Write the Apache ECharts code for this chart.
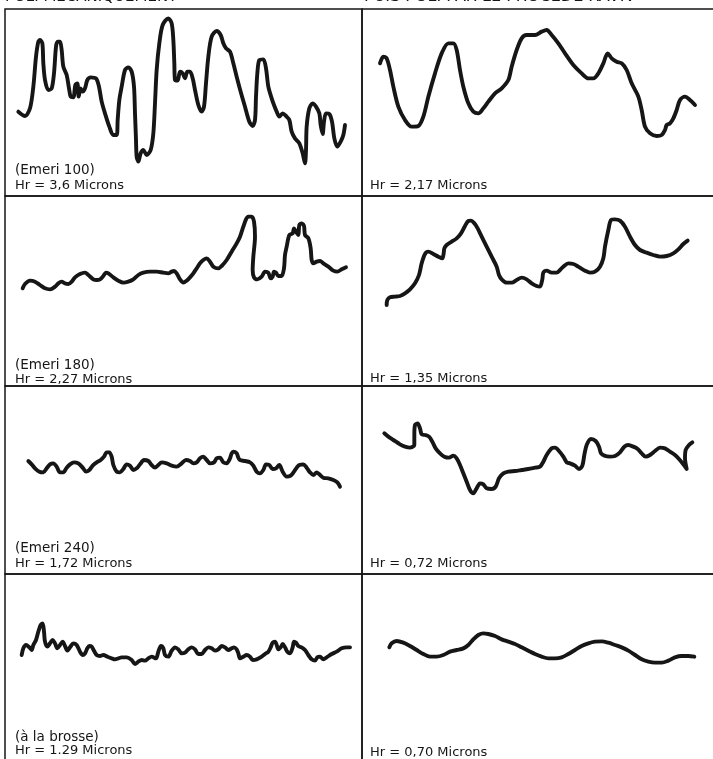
<!DOCTYPE html>
<html>
<head>
    <meta charset="utf-8">
    <title>Profils de rugosité</title>
    <script src="https://cdn.jsdelivr.net/npm/echarts@6/dist/echarts.min.js"></script>
    <style>
        html, body { margin: 0; padding: 0; background: #fff; }
        #main { width: 713px; height: 759px; }
    </style>
</head>
<body>
<div id="main"></div>
<script type="text/javascript">

    // titres des deux colonnes
    var headers = ['POLI MECANIQUEMENT', 'PUIS POLI PAR LE PROCEDE RAVIV'];

    // légendes des panneaux
    var leftNotes = ['(Emeri 100)', '(Emeri 180)', '(Emeri 240)', '(à la brosse)'];
    var leftHr = ['Hr = 3,6 Microns', 'Hr = 2,27 Microns', 'Hr = 1,72 Microns', 'Hr = 1.29 Microns'];
    var rightHr = ['Hr = 2,17 Microns', 'Hr = 1,35 Microns', 'Hr = 0,72 Microns', 'Hr = 0,70 Microns'];

    // profils [position, hauteur] (unités)
    var emeri100 = [[40,253],[60,240],[75,263],[85,328],[93,418],[100,463],[105,468],[112,458],[115,398],[120,348],[130,318],[140,323],[147,368],[153,448],[158,463],[165,463],[170,438],[175,388],[185,363],[192,323],[197,298],[205,296],[211,333],[217,338],[221,298],[227,323],[233,313],[240,323],[247,348],[257,356],[273,353],[282,328],[290,283],[300,248],[313,208],[325,183],[335,183],[338,228],[343,288],[350,328],[360,378],[370,386],[380,373],[387,328],[390,248],[393,168],[395,118],[400,103],[407,128],[415,138],[425,123],[437,138],[445,188],[450,278],[455,378],[463,458],[473,513],[490,533],[500,518],[505,468],[508,398],[510,348],[518,346],[525,373],[533,368],[540,353],[547,373],[555,373],[563,353],[570,318],[580,273],[590,253],[597,268],[603,338],[610,418],[620,478],[635,495],[647,483],[655,458],[663,443],[675,433],[685,398],[695,358],[707,313],[720,268],[733,223],[743,210],[750,228],[753,298],[757,368],[763,408],[775,410],[783,383],[790,328],[800,293],[807,273],[815,253],[823,238],[833,248],[843,240],[853,228],[860,193],[870,173],[883,158],[893,128],[900,98],[903,138],[905,208],[913,263],[923,278],[933,268],[943,248],[947,213],[953,186],[957,223],[963,248],[973,246],[981,223],[988,173],[997,148],[1007,163],[1015,183],[1020,213]];

    var raviv1 = [[54,398],[64,418],[74,413],[84,378],[94,328],[109,268],[129,228],[149,208],[169,210],[184,238],[199,298],[219,368],[239,428],[259,458],[274,458],[284,438],[294,378],[304,328],[319,278],[334,253],[349,248],[364,263],[379,283],[399,308],[419,323],[439,348],[449,388],[464,438],[479,473],[494,483],[519,483],[539,493],[554,498],[569,483],[589,458],[609,428],[634,393],[659,368],[679,353],[694,353],[709,368],[724,398],[737,428],[749,413],[764,403],[779,398],[794,378],[809,338],[829,298],[839,258],[849,208],[864,188],[884,180],[899,183],[909,198],[914,213],[924,218],[934,233],[944,258],[954,288],[969,298],[984,288],[999,273]];

    var emeri180 = [[53,293],[60,306],[75,316],[90,313],[105,303],[120,293],[135,290],[150,298],[160,308],[170,313],[180,308],[190,306],[200,313],[210,326],[225,336],[240,340],[250,333],[265,320],[275,318],[285,320],[295,330],[303,340],[310,338],[325,326],[340,316],[355,310],[370,313],[385,320],[400,333],[415,340],[435,343],[455,343],[475,340],[490,338],[500,343],[507,345],[515,338],[525,320],[535,310],[545,316],[555,326],[565,338],[575,353],[585,368],[595,378],[605,383],[615,373],[625,358],[640,353],[650,360],[665,378],[680,403],[695,428],[705,448],[715,478],[723,500],[730,508],[740,508],[747,493],[750,448],[745,388],[743,348],[747,326],[757,320],[770,328],[780,343],[790,340],[797,323],[803,328],[807,343],[813,340],[820,330],[830,330],[837,353],[840,393],[845,418],[853,453],[863,458],[867,473],[873,463],[880,453],[883,483],[890,488],[897,480],[900,453],[910,443],[917,413],[920,378],[925,368],[935,373],[945,375],[955,368],[970,358],[985,346],[997,343],[1010,350],[1023,356]];

    var raviv2 = [[74,243],[76,258],[84,266],[99,268],[114,270],[129,278],[144,290],[159,308],[171,333],[179,368],[189,396],[199,403],[214,396],[229,388],[241,383],[245,398],[247,413],[254,423],[269,433],[284,443],[297,458],[309,480],[319,495],[327,496],[337,488],[347,473],[359,448],[374,418],[389,388],[404,358],[411,333],[419,320],[434,310],[449,310],[464,318],[479,325],[494,320],[509,308],[524,300],[534,298],[541,320],[544,340],[554,346],[569,340],[584,340],[594,348],[604,358],[619,368],[634,366],[649,358],[669,346],[684,340],[699,343],[714,358],[724,383],[729,418],[739,468],[747,498],[759,500],[774,496],[789,478],[804,448],[819,423],[834,408],[854,400],[874,393],[894,388],[914,390],[934,398],[949,410],[964,426],[977,436]];

    var emeri240 = [[70,339],[80,329],[90,317],[103,307],[115,305],[125,317],[135,329],[145,332],[155,322],[165,305],[175,305],[185,319],[195,329],[207,335],[220,332],[233,319],[243,307],[253,312],[263,325],[275,335],[287,342],[297,352],[305,365],[313,365],[320,352],[325,327],[335,307],[345,305],[355,315],[365,329],[375,325],[385,312],[395,317],[405,329],[417,342],[430,339],[440,327],[450,319],[460,327],[470,335],[485,332],[500,325],[515,322],[530,332],[543,342],[555,339],[565,332],[575,335],[585,347],[595,352],[605,342],[615,332],[627,335],[635,347],[645,349],[655,335],[665,332],[675,347],[680,362],[685,367],[695,362],[700,349],[705,342],[720,339],[735,335],[745,325],[755,307],[765,302],[775,312],[783,329],[793,327],[803,315],[813,317],[823,327],[833,307],[845,292],[857,295],[867,307],[875,319],[883,327],[895,329],[905,319],[915,305],[925,297],[935,305],[943,299],[955,289],[970,287],[985,282],[997,275],[1005,262]];

    var raviv3 = [[67,422],[79,412],[94,402],[114,389],[129,382],[144,379],[157,387],[157,417],[159,447],[167,452],[174,437],[179,419],[189,417],[201,412],[211,397],[221,377],[234,362],[247,352],[261,349],[274,355],[284,347],[294,327],[304,302],[314,277],[324,252],[334,242],[344,257],[354,272],[364,269],[374,257],[389,255],[401,262],[411,287],[424,302],[439,307],[459,309],[479,312],[499,315],[519,319],[534,322],[544,337],[554,357],[569,377],[579,379],[591,369],[604,352],[614,335],[624,332],[639,325],[651,315],[661,325],[667,357],[674,387],[687,405],[701,399],[711,382],[717,362],[727,355],[744,352],[759,354],[774,365],[787,382],[799,387],[814,382],[827,375],[839,362],[851,352],[864,357],[879,369],[894,379],[909,377],[924,367],[939,357],[951,345],[964,329],[974,315],[969,347],[971,372],[981,387],[991,395]];

    var brosse = [[50,357],[55,377],[63,387],[73,380],[80,372],[85,387],[93,402],[100,427],[107,447],[113,452],[117,427],[120,397],[127,382],[135,392],[143,402],[150,392],[157,377],[165,387],[173,397],[180,384],[187,370],[195,380],[205,392],[215,387],[225,367],[233,357],[240,362],[247,377],[253,384],[260,382],[267,370],[275,357],[285,354],[295,357],[307,352],[320,347],[330,344],[340,347],[350,350],[365,350],[380,342],[390,330],[400,337],[410,342],[420,340],[430,347],[440,352],[453,347],[460,367],[468,384],[475,377],[480,357],[490,352],[500,370],[510,380],[520,374],[530,362],[540,364],[550,374],[560,380],[570,374],[580,360],[590,360],[600,372],[610,380],[620,377],[630,370],[640,374],[650,384],[660,380],[670,372],[680,377],[687,380],[695,374],[700,362],[705,347],[715,352],[725,357],[735,352],[743,342],[755,344],[770,352],[780,360],[790,367],[797,380],[803,394],[810,397],[815,387],[820,374],[827,380],[833,390],[840,380],[847,367],[855,362],[863,380],[867,397],[873,394],[880,384],[890,380],[900,372],[910,357],[920,344],[930,340],[937,350],[945,352],[955,344],[965,350],[980,360],[995,367],[1010,377],[1025,380],[1035,380]];

    var raviv4 = [[82,380],[89,392],[104,399],[124,394],[144,384],[164,372],[184,360],[204,352],[224,352],[244,357],[264,367],[284,372],[304,377],[319,387],[334,404],[349,417],[364,422],[379,420],[399,414],[419,404],[439,397],[459,390],[479,380],[499,370],[519,360],[539,352],[559,347],[579,347],[599,350],[619,360],[639,372],[659,384],[679,392],[699,397],[719,398],[739,394],[759,387],[779,380],[799,370],[819,357],[839,344],[859,337],[879,334],[899,334],[919,340],[939,350],[959,354],[979,354],[997,352]];

    var leftProfiles = [emeri100, emeri180, emeri240, brosse];
    var rightProfiles = [raviv1, raviv2, raviv3, raviv4];

    // mise en page des panneaux (px)
    var colLeft = [5, 362];
    var colWidth = [357, 355];
    var rowTop = [9, 196, 386, 574];
    var rowHeight = [187, 190, 188, 200];
    var unitPerPx = 3;

    var noteY = [170, 365, 548, 737];
    var hrLeftY = [186, 380, 564, 751];
    var hrRightY = [186, 379, 564, 753];

    var ink = '#161616';
    var textFont = '13px "DejaVu Sans", sans-serif';
    var noteFont = '13.5px "DejaVu Sans", sans-serif';

    var grids = [], xAxes = [], yAxes = [], series = [], graphics = [];

    function addPanel(col, row, profile) {
        var idx = grids.length;
        grids.push({
            left: colLeft[col], top: rowTop[row],
            width: colWidth[col], height: rowHeight[row],
            outerBoundsMode: 'none',
            containLabel: false,
            show: true, borderColor: ink, borderWidth: 1.5,
            backgroundColor: 'transparent'
        });
        xAxes.push({
            type: 'value', gridIndex: idx, show: false,
            min: 0, max: colWidth[col] * unitPerPx
        });
        yAxes.push({
            type: 'value', gridIndex: idx, show: false,
            min: 0, max: rowHeight[row] * unitPerPx
        });
        series.push({
            type: 'line', xAxisIndex: idx, yAxisIndex: idx,
            data: profile, showSymbol: false, smooth: 0.3,
            lineStyle: { color: ink, width: 3.9, cap: 'round', join: 'round' },
            silent: true
        });
    }

    for (var r = 0; r < 4; r++) {
        addPanel(0, r, leftProfiles[r]);
        addPanel(1, r, rightProfiles[r]);

        graphics.push({ type: 'text', x: 15, y: noteY[r],
            style: { text: leftNotes[r], font: noteFont, fill: ink, verticalAlign: 'middle' } });
        graphics.push({ type: 'text', x: 15, y: hrLeftY[r],
            style: { text: leftHr[r], font: textFont, fill: ink, verticalAlign: 'middle' } });
        graphics.push({ type: 'text', x: 370, y: hrRightY[r],
            style: { text: rightHr[r], font: textFont, fill: ink, verticalAlign: 'middle' } });
    }

    // titres coupés en haut de la page
    graphics.push({ type: 'text', x: 5, y: 5,
        style: { text: headers[0], font: '15px "DejaVu Sans", sans-serif', fill: ink, verticalAlign: 'bottom' } });
    graphics.push({ type: 'text', x: 364, y: 5,
        style: { text: headers[1], font: '16px "DejaVu Sans", sans-serif', fill: ink, verticalAlign: 'bottom' } });

    var myChart = echarts.init(document.getElementById('main'));
    myChart.setOption({
        backgroundColor: '#fff',
        animation: false,
        grid: grids,
        xAxis: xAxes,
        yAxis: yAxes,
        series: series,
        graphic: graphics
    });
</script>
</body>
</html>
